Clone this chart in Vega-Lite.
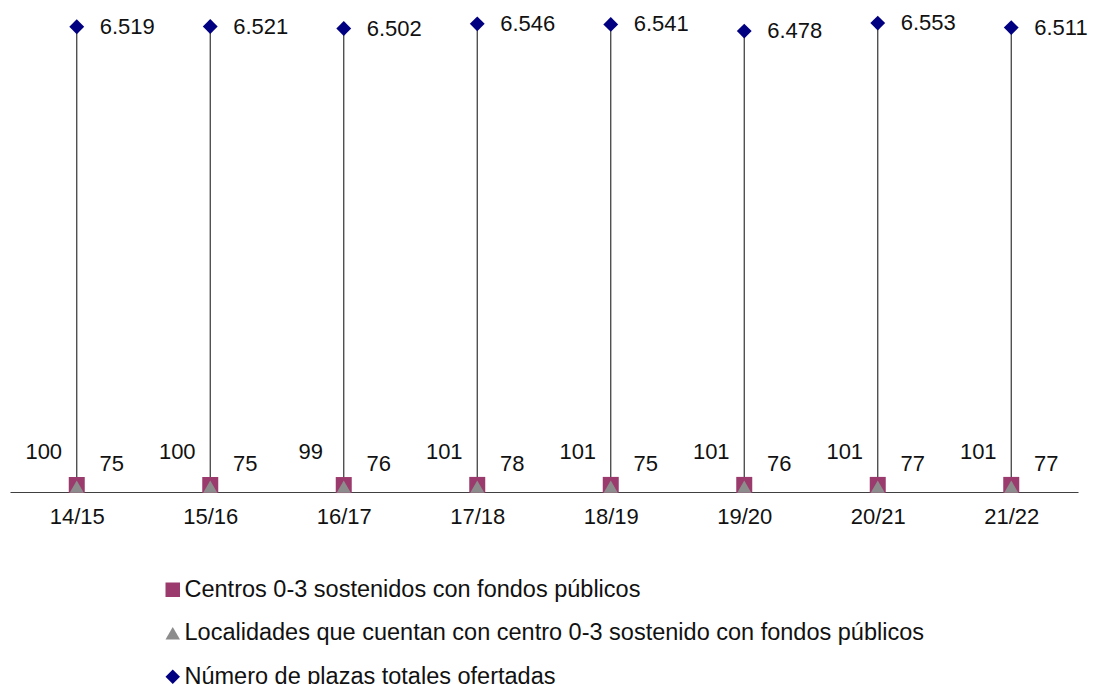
{
  "$schema": "https://vega.github.io/schema/vega-lite/v6.json",
  "autosize": "none",
  "width": 1068,
  "height": 492,
  "padding": {"left": 10, "top": 0, "right": 19, "bottom": 192},
  "background": "white",
  "config": {
    "view": {"stroke": null},
    "font": "Liberation Sans",
    "locale": {"number": {"decimal": ",", "thousands": ".", "grouping": [3], "currency": ["", " €"]}}
  },
  "data": {
    "values": [
      {"periodo": "14/15", "centros": 100, "localidades": 75, "plazas": 6519},
      {"periodo": "15/16", "centros": 100, "localidades": 75, "plazas": 6521},
      {"periodo": "16/17", "centros": 99, "localidades": 76, "plazas": 6502},
      {"periodo": "17/18", "centros": 101, "localidades": 78, "plazas": 6546},
      {"periodo": "18/19", "centros": 101, "localidades": 75, "plazas": 6541},
      {"periodo": "19/20", "centros": 101, "localidades": 76, "plazas": 6478},
      {"periodo": "20/21", "centros": 101, "localidades": 77, "plazas": 6553},
      {"periodo": "21/22", "centros": 101, "localidades": 77, "plazas": 6511}
    ]
  },
  "encoding": {
    "x": {
      "field": "periodo",
      "type": "nominal",
      "sort": null,
      "scale": {"type": "point", "padding": 0.5},
      "axis": {
        "title": null,
        "ticks": false,
        "labelAngle": 0,
        "labelFontSize": 22,
        "labelColor": "#111111",
        "labelPadding": 14,
        "domainColor": "#404040",
        "domainWidth": 1.2,
        "grid": false
      }
    }
  },
  "layer": [
    {
      "mark": {"type": "rule", "color": "#333333", "strokeWidth": 1.2},
      "encoding": {
        "y": {"field": "plazas", "type": "quantitative", "scale": {"domain": [2150, 6770]}, "axis": null},
        "y2": {"datum": 2150}
      }
    },
    {
      "mark": {"type": "point", "filled": true, "opacity": 1, "size": 256},
      "encoding": {
        "y": {"field": "centros", "type": "quantitative", "scale": {"domain": [0, 7000]}, "axis": null},
        "color": {
          "datum": "Centros 0-3 sostenidos con fondos públicos",
          "type": "nominal",
          "scale": {
            "domain": ["Centros 0-3 sostenidos con fondos públicos", "Localidades que cuentan con centro 0-3 sostenido con fondos públicos", "Número de plazas totales ofertadas"],
            "range": ["#9b3a6c", "#8c8c8c", "#000080"]
          },
          "legend": {
            "title": null,
            "orient": "none",
            "legendX": 151,
            "legendY": 578,
            "labelFontSize": 23.5,
            "labelColor": "#111111",
            "labelLimit": 1000,
            "symbolSize": 210,
            "rowPadding": 18.5,
            "labelOffset": 0,
            "padding": 0
          }
        },
        "shape": {
          "datum": "Centros 0-3 sostenidos con fondos públicos",
          "type": "nominal",
          "scale": {
            "domain": ["Centros 0-3 sostenidos con fondos públicos", "Localidades que cuentan con centro 0-3 sostenido con fondos públicos", "Número de plazas totales ofertadas"],
            "range": ["square", "triangle-up", "diamond"]
          }
        }
      }
    },
    {
      "mark": {"type": "point", "filled": true, "opacity": 1, "size": 200},
      "encoding": {
        "y": {"field": "localidades", "type": "quantitative", "scale": {"domain": [0, 7000]}, "axis": null},
        "color": {"datum": "Localidades que cuentan con centro 0-3 sostenido con fondos públicos", "type": "nominal"},
        "shape": {"datum": "Localidades que cuentan con centro 0-3 sostenido con fondos públicos", "type": "nominal"}
      }
    },
    {
      "mark": {"type": "point", "filled": true, "opacity": 1, "size": 220},
      "encoding": {
        "y": {"field": "plazas", "type": "quantitative", "scale": {"domain": [2150, 6770]}, "axis": null},
        "color": {"datum": "Número de plazas totales ofertadas", "type": "nominal"},
        "shape": {"datum": "Número de plazas totales ofertadas", "type": "nominal"}
      }
    },
    {
      "mark": {"type": "text", "align": "left", "baseline": "middle", "dx": 23, "fontSize": 22, "color": "#111111"},
      "encoding": {
        "y": {"field": "plazas", "type": "quantitative", "scale": {"domain": [2150, 6770]}, "axis": null},
        "text": {"field": "plazas", "type": "quantitative", "format": ","}
      }
    },
    {
      "mark": {"type": "text", "align": "center", "baseline": "middle", "dx": -33, "dy": -33, "fontSize": 22, "color": "#111111"},
      "encoding": {
        "y": {"field": "centros", "type": "quantitative", "scale": {"domain": [0, 7000]}, "axis": null},
        "text": {"field": "centros", "type": "quantitative", "format": ","}
      }
    },
    {
      "mark": {"type": "text", "align": "center", "baseline": "middle", "dx": 35, "dy": -23, "fontSize": 22, "color": "#111111"},
      "encoding": {
        "y": {"field": "localidades", "type": "quantitative", "scale": {"domain": [0, 7000]}, "axis": null},
        "text": {"field": "localidades", "type": "quantitative", "format": ","}
      }
    }
  ],
  "resolve": {"scale": {"y": "independent"}}
}
